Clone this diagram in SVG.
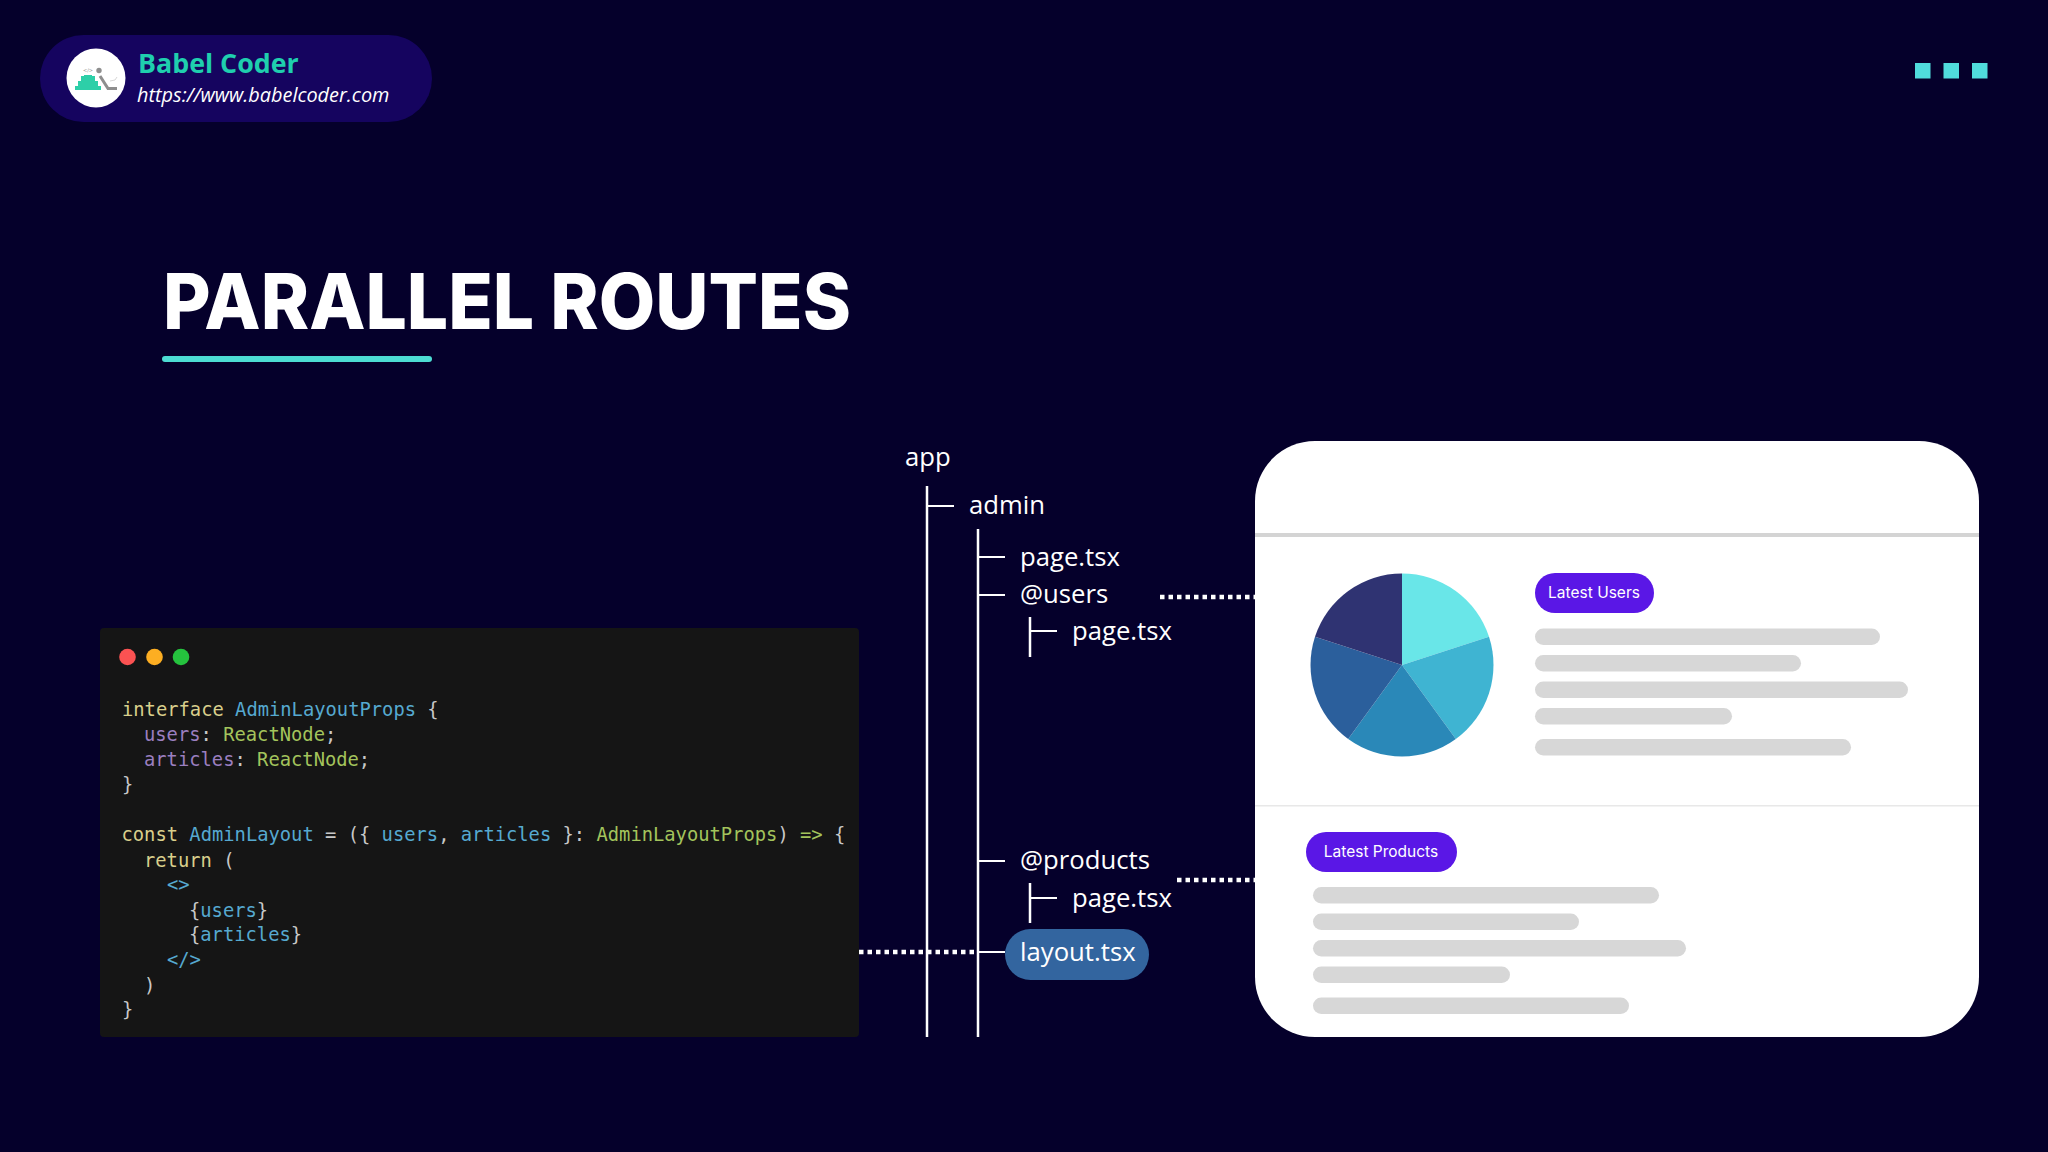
<svg xmlns="http://www.w3.org/2000/svg" width="2048" height="1152" viewBox="0 0 2048 1152">
<style>
.tree{font-family:"Open Sans","Noto Sans",sans-serif;font-size:25.7px;fill:#fff}
.v{stroke:#fff;stroke-width:2.500;fill:none}
.h{stroke:#fff;stroke-width:2;fill:none}
.dots{stroke:#fff;stroke-width:4.500;stroke-dasharray:4.500 4;fill:none}
.code{font-family:"DejaVu Sans Mono",monospace;font-size:18.8px;fill:#c8c8c8;white-space:pre}
.k{fill:#d9cf8c}.t{fill:#56a9d0}.p{fill:#9b7fc0}.g{fill:#a3c45c}
.bar{fill:#d7d7d7}
.pill{fill:#5a17e6}
.pt{font-family:"Inter","Noto Sans",sans-serif;font-size:15.5px;fill:#fff;text-anchor:middle}
</style>
<rect width="2048" height="1152" fill="#05002b"/>
<g id="brand">
<rect x="40" y="35" width="392" height="87" rx="43.500" fill="#15045f"/>
<circle cx="96" cy="78" r="29.500" fill="#fff"/>
<path d="M75 90v-4h3v-5h3v-5h3v-1h8v1h3v5h3v5h3v4z" fill="#2dcfa8"/>
<text x="88" y="72" font-family="'DejaVu Sans',sans-serif" font-size="5" fill="#999" text-anchor="middle">&lt;/&gt;</text>
<circle cx="99" cy="70.500" r="2.700" fill="#8e8e8e"/>
<path d="M100 76l8 12.500h9" stroke="#8e8e8e" stroke-width="3" fill="none"/>
<path d="M110 81l5-1 2-3" stroke="#ccc" stroke-width="0.800" fill="none"/>
<text x="138" y="73" font-family="'Open Sans',sans-serif" font-weight="700" font-size="26.800" fill="#1fcfae">Babel Coder</text>
<text x="137" y="102" font-family="'Open Sans',sans-serif" font-style="italic" font-size="19.900" fill="#fff">https://www.babelcoder.com</text>
</g>
<g id="window-dots" fill="#50dcdc">
<rect x="1915" y="63" width="15.500" height="15.500"/><rect x="1943.500" y="63" width="15.500" height="15.500"/><rect x="1972" y="63" width="15.500" height="15.500"/>
</g>
<g id="title">
<text x="163" y="329" font-family="Inter,sans-serif" font-weight="800" font-size="77" fill="#fff" textLength="688" lengthAdjust="spacingAndGlyphs">PARALLEL ROUTES</text>
<rect x="162" y="356" width="270" height="6" rx="3" fill="#4ddcd3"/>
</g>
<g id="code-window">
<rect x="100" y="628" width="759" height="409" rx="4" fill="#151515"/>
<circle cx="127.500" cy="657" r="8.300" fill="#fb5252"/><circle cx="154.500" cy="657" r="8.300" fill="#fdae22"/><circle cx="181" cy="657" r="8.300" fill="#25c33e"/>
<text class="code" x="122" y="716"><tspan class="k">interface</tspan> <tspan class="t">AdminLayoutProps</tspan> {</text>
<text class="code" x="144" y="741"><tspan class="p">users</tspan>: <tspan class="g">ReactNode</tspan>;</text>
<text class="code" x="144" y="765.500"><tspan class="p">articles</tspan>: <tspan class="g">ReactNode</tspan>;</text>
<text class="code" x="122" y="791">}</text>
<text class="code" x="121.500" y="841"><tspan class="k">const</tspan> <tspan class="t">AdminLayout</tspan> = ({ <tspan class="t">users</tspan>, <tspan class="t">articles</tspan> }: <tspan class="g">AdminLayoutProps</tspan>) <tspan class="g">=&gt;</tspan> {</text>
<text class="code" x="144" y="867"><tspan class="k">return</tspan> (</text>
<text class="code t" x="167" y="891">&lt;&gt;</text>
<text class="code" x="189" y="916.500">{<tspan class="t">users</tspan>}</text>
<text class="code" x="189" y="941">{<tspan class="t">articles</tspan>}</text>
<text class="code t" x="167" y="966">&lt;/&gt;</text>
<text class="code" x="144" y="992">)</text>
<text class="code" x="122" y="1016">}</text>
</g>
<g id="layout-node">
<rect x="1005" y="929" width="144" height="51" rx="25.500" fill="#33659f"/>
<text class="tree" x="1020" y="961">layout.tsx</text>
</g>
<g id="connectors">
<path class="v" d="M927 486V1037M978 529V1037M1030 617V657M1030 883V923"/>
<path class="h" d="M927 506H954M978 557H1005M978 595H1005M978 861H1005M978 952H1005M1030 631H1057M1030 898H1057"/>
<path class="dots" d="M1160 597H1255M1177 880H1255M859 952H976"/>
</g>
<g id="tree" class="tree">
<text x="905" y="465.500">app</text>
<text x="969" y="514">admin</text>
<text x="1020" y="566">page.tsx</text>
<text x="1020" y="603">@users</text>
<text x="1072" y="640">page.tsx</text>
<text x="1020" y="869">@products</text>
<text x="1072" y="907">page.tsx</text>
</g>
<g id="card">
<rect x="1255" y="441" width="724" height="596" rx="60" fill="#fff"/>
<rect x="1255" y="533" width="724" height="4" fill="#d4d4d4"/>
<rect x="1255" y="805" width="724" height="1.500" fill="#e8e8e8"/>
</g>
<g id="pie">
<path d="M1402 665V573.500A91.500 91.500 0 0 1 1489 636.700z" fill="#69e6e8"/>
<path d="M1402 665L1489 636.700A91.500 91.500 0 0 1 1455.800 739z" fill="#3fb4d2"/>
<path d="M1402 665L1455.800 739A91.500 91.500 0 0 1 1348.200 739z" fill="#2a88b8"/>
<path d="M1402 665L1348.200 739A91.500 91.500 0 0 1 1315 636.700z" fill="#2b5f9c"/>
<path d="M1402 665L1315 636.700A91.500 91.500 0 0 1 1402 573.500z" fill="#2f3372"/>
</g>
<g id="latest-users">
<rect class="pill" x="1535" y="573" width="119" height="40" rx="20"/>
<text class="pt" x="1594" y="598">Latest Users</text>
<rect class="bar" x="1535" y="628.500" width="345" height="16.500" rx="8.250"/>
<rect class="bar" x="1535" y="655" width="266" height="16.500" rx="8.250"/>
<rect class="bar" x="1535" y="681.500" width="373" height="16.500" rx="8.250"/>
<rect class="bar" x="1535" y="708" width="197" height="16.500" rx="8.250"/>
<rect class="bar" x="1535" y="739" width="316" height="16.500" rx="8.250"/>
</g>
<g id="latest-products">
<rect class="pill" x="1306" y="832" width="151" height="40" rx="20"/>
<text class="pt" x="1381" y="857">Latest Products</text>
<rect class="bar" x="1313" y="887" width="346" height="16.500" rx="8.250"/>
<rect class="bar" x="1313" y="913.500" width="266" height="16.500" rx="8.250"/>
<rect class="bar" x="1313" y="940" width="373" height="16.500" rx="8.250"/>
<rect class="bar" x="1313" y="966.500" width="197" height="16.500" rx="8.250"/>
<rect class="bar" x="1313" y="997.500" width="316" height="16.500" rx="8.250"/>
</g>
</svg>
